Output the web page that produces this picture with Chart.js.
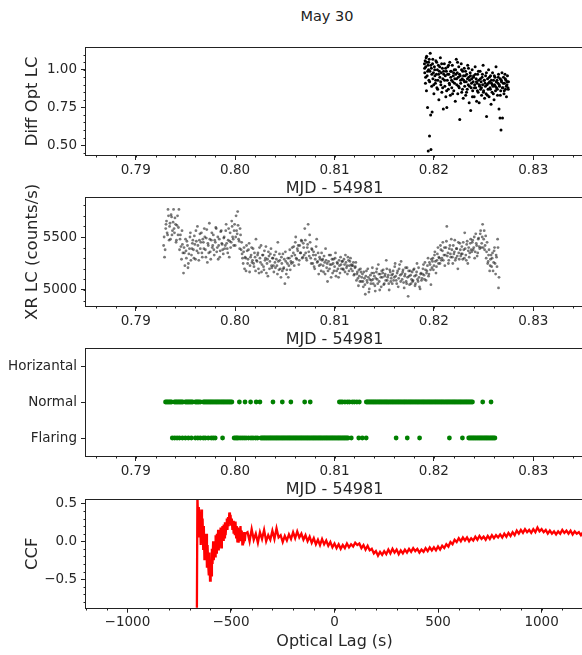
<!DOCTYPE html>
<html><head><meta charset="utf-8">
<script src="https://cdn.jsdelivr.net/npm/chart.js@4/dist/chart.umd.min.js"></script>
<style>
html,body{margin:0;padding:0;background:#fff;}
#wrap{position:relative;width:582px;height:655px;overflow:hidden;}
canvas{position:absolute;left:0;}
#sup{position:absolute;top:7.5px;left:327px;transform:translateX(-50%);font-family:'DejaVu Sans';font-size:14.5px;line-height:17px;color:#222;white-space:nowrap;}
</style></head>
<body><div id="wrap">
<div id="sup">May 30</div>
<canvas id="c1" width="590" height="198" style="top:0px"></canvas>
<canvas id="c2" width="590" height="169" style="top:180px"></canvas>
<canvas id="c3" width="590" height="169" style="top:330px"></canvas>
<canvas id="c4" width="590" height="171" style="top:480px"></canvas>
</div>
<script>
// ---------- DATA ----------
const mjdTicks = [0.79, 0.80, 0.81, 0.82, 0.83];
const optTicks = [0.50, 0.75, 1.00];
const xrTicks = [5000, 5500];
const stateTicks = [0, 1, 2];
const stateLabels = ['Flaring', 'Normal', 'Horizantal'];
const lagTicks = [-1000, -500, 0, 500, 1000];
const ccfTicks = [-0.5, 0.0, 0.5];

// Panel 1: differential optical light curve
const optT = [0.81905,0.81908,0.81912,0.81915,0.81918,0.81922,0.81925,0.81929,0.81932,0.81936,0.81940,0.81943,0.81946,0.81950,0.81953,0.81956,0.81960,0.81963,0.81967,0.81970,0.81974,0.81978,0.81982,0.81986,0.81990,0.81995,0.82000,0.82005,0.82010,0.82015,0.82020,0.82025,0.82030,0.82035,0.82040,0.82045,0.82050,0.82055,0.82060,0.82065,0.82070,0.82075,0.82080,0.82085,0.82090,0.82095,0.82100,0.82105,0.82110,0.82115,0.82120,0.82125,0.82130,0.82135,0.82140,0.82145,0.82150,0.82155,0.82160,0.82165,0.82170,0.82175,0.82180,0.82185,0.82190,0.82195,0.82200,0.82205,0.82210,0.82215,0.82220,0.82225,0.82230,0.82235,0.82240,0.82245,0.82250,0.82255,0.82260,0.82265,0.82270,0.82275,0.82280,0.82285,0.82290,0.82295,0.82300,0.82305,0.82310,0.82315,0.82320,0.82325,0.82330,0.82335,0.82340,0.82345,0.82350,0.82355,0.82360,0.82365,0.82370,0.82375,0.82380,0.82385,0.82390,0.82395,0.82400,0.82405,0.82410,0.82415,0.82420,0.82425,0.82430,0.82435,0.82440,0.82445,0.82450,0.82455,0.82460,0.82465,0.82470,0.82475,0.82480,0.82485,0.82490,0.82495,0.82500,0.82505,0.82510,0.82515,0.82520,0.82525,0.82530,0.82535,0.82540,0.82545,0.82550,0.82555,0.82560,0.82565,0.82570,0.82575,0.82580,0.82585,0.82590,0.82595,0.82600,0.82605,0.82610,0.82615,0.82620,0.82625,0.82630,0.82635,0.82640,0.82645,0.82650,0.82655,0.82660,0.82665,0.82668,0.82672,0.82675,0.82680,0.82685,0.82690,0.82695,0.82700,0.82705,0.82710,0.82715,0.82720,0.82725,0.82730,0.82735,0.82740,0.82745,0.82750,
0.81907,0.81917,0.81927,0.81937,0.81947,0.81957,0.81968,0.81979,0.81989,0.81998,0.82008,0.82018,0.82028,0.82038,0.82048,0.82058,0.82068,0.82078,0.82088,0.82098,0.82108,0.82118,0.82128,0.82138,0.82148,0.82158,0.82168,0.82178,0.82188,0.82198,0.82208,0.82218,0.82228,0.82238,0.82248,0.82258,0.82268,0.82278,0.82288,0.82298,0.82308,0.82318,0.82328,0.82338,0.82348,0.82358,0.82368,0.82378,0.82388,0.82398,0.82408,0.82418,0.82428,0.82438,0.82448,0.82458,0.82468,0.82478,0.82488,0.82498,0.82508,0.82518,0.82528,0.82538,0.82548,0.82558,0.82568,0.82578,0.82588,0.82598,0.82608,0.82618,0.82628,0.82638,0.82648,0.82658,0.82668,0.82678,0.82688,0.82698,0.82708,0.82718,0.82728,0.82738,0.82748];
const optF = [1.04,0.98,1.06,0.91,1.02,1.08,0.86,1.05,0.96,0.75,1.03,0.46,1.00,0.93,1.07,0.56,0.99,1.11,0.70,0.47,1.01,0.89,0.72,1.04,0.94,0.98,0.84,1.02,0.96,0.91,1.06,0.97,0.88,1.00,0.93,1.03,0.80,0.99,0.95,1.08,0.90,0.98,0.85,1.01,0.94,0.74,0.97,1.04,0.89,0.96,0.82,0.99,0.75,0.93,1.02,0.87,0.97,0.91,1.05,0.83,0.95,0.99,0.88,1.03,0.92,0.96,0.86,1.00,0.94,0.79,0.97,1.07,0.90,0.98,0.84,0.95,1.02,0.88,0.67,0.96,0.91,1.04,0.85,0.94,0.99,0.81,0.93,1.01,0.89,0.96,0.83,0.92,0.97,0.87,1.03,0.90,0.95,0.78,0.93,0.98,0.73,0.88,0.94,1.00,0.86,0.92,0.96,0.82,0.90,1.02,0.88,0.94,0.79,0.91,0.97,0.85,0.93,0.78,0.89,0.99,0.87,0.92,0.83,0.95,0.90,1.03,0.86,0.93,0.81,0.91,0.96,0.84,0.69,0.90,0.94,0.87,1.00,0.82,0.92,0.88,0.96,0.77,0.91,0.85,0.98,0.89,0.93,0.80,0.90,0.95,0.86,1.02,0.88,0.93,0.83,0.91,0.97,0.74,0.89,0.68,0.94,0.86,0.60,0.92,0.98,0.68,0.88,0.95,0.84,0.91,0.97,0.87,0.93,0.82,0.90,0.96,0.88,0.92,
1.01,0.95,1.09,0.99,1.05,0.92,1.03,0.97,1.07,0.90,1.00,0.93,1.05,0.87,0.97,1.02,0.92,1.04,0.88,0.99,0.93,1.01,0.86,0.97,1.03,0.90,0.99,0.93,0.84,0.98,0.91,1.00,0.94,1.05,0.89,0.97,0.93,1.00,0.87,0.96,0.92,0.99,0.85,0.94,1.01,0.89,0.96,0.91,0.82,0.95,0.88,0.97,0.92,0.86,0.99,0.90,0.94,0.88,0.97,0.85,0.93,0.89,0.98,0.83,0.91,0.95,0.87,0.93,0.90,0.84,0.96,0.89,0.92,0.87,0.95,0.90,0.83,0.93,0.88,0.91,0.86,0.94,0.89,0.92,0.87];

// Panel 2: X-ray light curve (counts/s)
const xrT = [0.79281,0.79290,0.79302,0.79310,0.79321,0.79330,0.79341,0.79350,0.79361,0.79370,
0.79381,0.79390,0.79401,0.79410,0.79421,0.79430,0.79441,0.79450,0.79461,0.79470,
0.79481,0.79490,0.79501,0.79510,0.79521,0.79530,0.79541,0.79550,0.79561,0.79570,
0.79581,0.79590,0.79601,0.79610,0.79621,0.79630,0.79641,0.79650,0.79661,0.79670,
0.79681,0.79690,0.79701,0.79710,0.79721,0.79730,0.79741,0.79750,0.79761,0.79770,
0.79781,0.79790,0.79801,0.79810,0.79821,0.79830,0.79841,0.79850,0.79861,0.79870,
0.79881,0.79890,0.79901,0.79910,0.79921,0.79930,0.79941,0.79950,0.79961,0.79970,
0.79981,0.79990,0.80001,0.80010,0.80021,0.80030,0.80041,0.80050,0.80061,0.80070,
0.80081,0.80090,0.80101,0.80110,0.80121,0.80130,0.80141,0.80150,0.80161,0.80170,
0.80181,0.80190,0.80201,0.80210,0.80221,0.80230,0.80241,0.80250,0.80261,0.80270,
0.80281,0.80290,0.80301,0.80310,0.80321,0.80330,0.80341,0.80350,0.80361,0.80370,
0.80381,0.80390,0.80401,0.80410,0.80421,0.80430,0.80441,0.80450,0.80461,0.80470,
0.80481,0.80490,0.80501,0.80510,0.80521,0.80530,0.80541,0.80550,0.80561,0.80570,
0.80581,0.80590,0.80601,0.80610,0.80621,0.80630,0.80641,0.80650,0.80661,0.80670,
0.80681,0.80690,0.80701,0.80710,0.80721,0.80730,0.80741,0.80750,0.80761,0.80770,
0.80781,0.80790,0.80801,0.80810,0.80821,0.80830,0.80841,0.80850,0.80861,0.80870,
0.80881,0.80890,0.80901,0.80910,0.80921,0.80930,0.80941,0.80950,0.80961,0.80970,
0.80981,0.80990,0.81001,0.81010,0.81021,0.81030,0.81041,0.81050,0.81061,0.81070,
0.81081,0.81090,0.81101,0.81110,0.81121,0.81130,0.81141,0.81150,0.81161,0.81170,
0.81181,0.81190,0.81201,0.81210,0.81221,0.81230,0.81241,0.81250,0.81261,0.81270,
0.81281,0.81290,0.81301,0.81310,0.81321,0.81330,0.81341,0.81350,0.81361,0.81370,
0.81381,0.81390,0.81401,0.81410,0.81421,0.81430,0.81441,0.81450,0.81461,0.81470,
0.81481,0.81490,0.81501,0.81510,0.81521,0.81530,0.81541,0.81550,0.81561,0.81570,
0.81581,0.81590,0.81601,0.81610,0.81621,0.81630,0.81641,0.81650,0.81661,0.81670,
0.81681,0.81690,0.81701,0.81710,0.81721,0.81730,0.81741,0.81750,0.81761,0.81770,
0.81781,0.81790,0.81801,0.81810,0.81821,0.81830,0.81841,0.81850,0.81861,0.81870,
0.81881,0.81890,0.81901,0.81910,0.81921,0.81930,0.81941,0.81950,0.81961,0.81970,
0.81981,0.81990,0.82001,0.82010,0.82021,0.82030,0.82041,0.82050,0.82061,0.82070,
0.82081,0.82090,0.82101,0.82110,0.82121,0.82130,0.82141,0.82150,0.82161,0.82170,
0.82181,0.82190,0.82201,0.82210,0.82221,0.82230,0.82241,0.82250,0.82261,0.82270,
0.82281,0.82290,0.82301,0.82310,0.82321,0.82330,0.82341,0.82350,0.82361,0.82370,
0.82381,0.82390,0.82401,0.82410,0.82421,0.82430,0.82441,0.82450,0.82461,0.82470,
0.82481,0.82490,0.82501,0.82510,0.82521,0.82530,0.82541,0.82550,0.82561,0.82570,
0.82581,0.82590,0.82601,0.82610,0.82621,0.82630,0.82641,0.82650];
const xrR = [5420,5310,5580,5650,5520,5700,5600,5480,5690,5560,
5760,5540,5620,5470,5700,5590,5380,5520,5290,5430,
5160,5350,5480,5300,5420,5250,5390,5540,5330,5440,
5380,5510,5290,5460,5600,5350,5470,5390,5540,5310,
5450,5580,5380,5490,5260,5420,5630,5360,5470,5400,
5520,5330,5450,5580,5400,5290,5480,5370,5560,5430,
5340,5500,5420,5620,5390,5470,5310,5540,5450,5600,
5480,5560,5420,5700,5530,5610,5460,5580,5380,5340,
5250,5400,5310,5180,5370,5290,5440,5230,5330,5260,
5390,5220,5310,5480,5270,5350,5160,5300,5420,5240,
5330,5190,5280,5410,5250,5130,5320,5270,5390,5210,
5300,5170,5260,5360,5230,5450,5190,5280,5120,5250,
5340,5210,5060,5270,5190,5300,5230,5380,5270,5320,
5260,5410,5330,5500,5290,5370,5240,5420,5350,5460,
5310,5400,5580,5350,5280,5430,5360,5520,5300,5390,
5250,5360,5200,5330,5480,5270,5150,5310,5240,5350,
5290,5170,5260,5390,5210,5080,5270,5200,5330,5240,
5160,5290,5220,5350,5180,5250,5120,5230,5310,5200,
5270,5190,5240,5330,5210,5150,5280,5230,5300,5240,
5180,5260,5150,5220,5090,5170,5040,5130,5200,5080,
5150,5030,5110,4960,5180,5070,5120,5010,5140,5090,
5210,5060,5130,4990,5170,5100,5240,5080,5150,5030,
5120,5190,5060,5150,5280,5090,5140,5000,5170,5110,
5060,5180,5120,5250,5090,5160,5030,5200,5140,5270,
5100,5190,5020,5150,5080,5210,4940,5130,5180,5060,
5170,5090,5200,5040,5140,5250,5080,5120,5010,5160,
5110,5200,5140,5260,5090,5180,5300,5150,5240,5050,
5210,5300,5230,5360,5160,5280,5400,5310,5250,5380,
5300,5450,5330,5230,5400,5600,5350,5280,5420,5310,
5380,5250,5340,5470,5300,5390,5200,5350,5440,5320,
5410,5290,5380,5540,5330,5430,5250,5400,5350,5480,
5360,5470,5400,5300,5530,5420,5350,5490,5390,5560,
5440,5620,5480,5380,5510,5360,5250,5330,5180,5290,
5220,5350,5260,5400,5150,5310,5480,5020];
// second reading pass of the same X-ray curve (interleaved samples)
const xrT2 = [0.79286,0.79296,0.79305,0.79316,0.79325,0.79336,0.79345,0.79356,0.79365,0.79376,
0.79386,0.79395,0.79406,0.79415,0.79426,0.79435,0.79446,0.79455,0.79466,0.79475,
0.79486,0.79495,0.79506,0.79515,0.79526,0.79535,0.79546,0.79555,0.79566,0.79575,
0.79586,0.79595,0.79606,0.79615,0.79626,0.79635,0.79646,0.79655,0.79666,0.79675,
0.79686,0.79695,0.79706,0.79715,0.79726,0.79735,0.79746,0.79755,0.79766,0.79775,
0.79786,0.79795,0.79806,0.79815,0.79826,0.79835,0.79846,0.79855,0.79866,0.79875,
0.79886,0.79895,0.79906,0.79915,0.79926,0.79935,0.79946,0.79955,0.79966,0.79975,
0.79986,0.79995,0.80006,0.80015,0.80026,0.80035,0.80046,0.80055,0.80066,0.80075,
0.80086,0.80095,0.80106,0.80115,0.80126,0.80135,0.80146,0.80155,0.80166,0.80175,
0.80186,0.80195,0.80206,0.80215,0.80226,0.80235,0.80246,0.80255,0.80266,0.80275,
0.80286,0.80295,0.80306,0.80315,0.80326,0.80335,0.80346,0.80355,0.80366,0.80375,
0.80386,0.80395,0.80406,0.80415,0.80426,0.80435,0.80446,0.80455,0.80466,0.80475,
0.80486,0.80495,0.80506,0.80515,0.80526,0.80535,0.80546,0.80555,0.80566,0.80575,
0.80586,0.80595,0.80606,0.80615,0.80626,0.80635,0.80646,0.80655,0.80666,0.80675,
0.80686,0.80695,0.80706,0.80715,0.80726,0.80735,0.80746,0.80755,0.80766,0.80775,
0.80786,0.80795,0.80806,0.80815,0.80826,0.80835,0.80846,0.80855,0.80866,0.80875,
0.80886,0.80895,0.80906,0.80915,0.80926,0.80935,0.80946,0.80955,0.80966,0.80975,
0.80986,0.80995,0.81006,0.81015,0.81026,0.81035,0.81046,0.81055,0.81066,0.81075,
0.81086,0.81095,0.81106,0.81115,0.81126,0.81135,0.81146,0.81155,0.81166,0.81175,
0.81186,0.81195,0.81206,0.81215,0.81226,0.81235,0.81246,0.81255,0.81266,0.81275,
0.81286,0.81295,0.81306,0.81315,0.81326,0.81335,0.81346,0.81355,0.81366,0.81375,
0.81386,0.81395,0.81406,0.81415,0.81426,0.81435,0.81446,0.81455,0.81466,0.81475,
0.81486,0.81495,0.81506,0.81515,0.81526,0.81535,0.81546,0.81555,0.81566,0.81575,
0.81586,0.81595,0.81606,0.81615,0.81626,0.81635,0.81646,0.81655,0.81666,0.81675,
0.81686,0.81695,0.81706,0.81715,0.81726,0.81735,0.81746,0.81755,0.81766,0.81775,
0.81786,0.81795,0.81806,0.81815,0.81826,0.81835,0.81846,0.81855,0.81866,0.81875,
0.81886,0.81895,0.81906,0.81915,0.81926,0.81935,0.81946,0.81955,0.81966,0.81975,
0.81986,0.81995,0.82006,0.82015,0.82026,0.82035,0.82046,0.82055,0.82066,0.82075,
0.82086,0.82095,0.82106,0.82115,0.82126,0.82135,0.82146,0.82155,0.82166,0.82175,
0.82186,0.82195,0.82206,0.82215,0.82226,0.82235,0.82246,0.82255,0.82266,0.82275,
0.82286,0.82295,0.82306,0.82315,0.82326,0.82335,0.82346,0.82355,0.82366,0.82375,
0.82386,0.82395,0.82406,0.82415,0.82426,0.82435,0.82446,0.82455,0.82466,0.82475,
0.82486,0.82495,0.82506,0.82515,0.82526,0.82535,0.82546,0.82555,0.82566,0.82575,
0.82586,0.82595,0.82606,0.82615,0.82626,0.82635,0.82645,0.82655];
const xrR2 = [5500,5380,5620,5540,5760,5470,5630,5710,5520,5640,
5580,5680,5450,5610,5520,5760,5480,5410,5560,5350,
5400,5230,5370,5460,5210,5340,5500,5280,5390,5470,
5300,5430,5560,5370,5420,5280,5530,5450,5350,5480,
5390,5500,5310,5570,5440,5350,5480,5290,5540,5420,
5380,5470,5590,5360,5500,5420,5310,5550,5440,5380,
5490,5390,5560,5440,5350,5580,5460,5400,5650,5500,
5420,5620,5500,5560,5740,5480,5390,5520,5450,5300,
5360,5200,5300,5420,5250,5380,5170,5310,5400,5280,
5250,5350,5180,5280,5330,5200,5400,5260,5170,5330,
5220,5370,5300,5160,5290,5360,5200,5340,5230,5300,
5230,5330,5210,5290,5150,5270,5340,5200,5310,5180,
5200,5290,5360,5150,5250,5120,5300,5190,5250,5400,
5350,5230,5450,5300,5390,5420,5280,5350,5470,5300,
5440,5330,5470,5300,5400,5620,5320,5450,5250,5380,
5330,5220,5290,5410,5260,5350,5230,5290,5180,5280,
5230,5320,5150,5280,5250,5180,5330,5240,5120,5290,
5250,5180,5300,5130,5260,5200,5280,5160,5240,5270,
5200,5290,5170,5260,5230,5310,5180,5270,5200,5230,
5230,5140,5210,5260,5150,5110,5190,5080,5170,5120,
5080,5170,5050,5130,5090,5200,4980,5100,5060,5160,
5100,5160,5040,5110,5200,5060,5150,5000,5120,5180,
5160,5050,5130,5090,5200,5120,5060,5190,5080,5140,
5150,5090,5220,5130,5060,5180,5110,5240,5080,5150,
5170,5070,5130,5210,5060,5120,5180,5050,5140,5100,
5080,5190,5130,5060,5170,5100,5210,5030,5150,5090,
5150,5240,5100,5190,5160,5230,5130,5260,5190,5290,
5270,5190,5330,5270,5220,5340,5250,5300,5420,5280,
5370,5280,5400,5330,5460,5320,5250,5390,5340,5480,
5310,5420,5360,5280,5390,5320,5450,5290,5380,5340,
5340,5450,5300,5390,5280,5460,5370,5310,5440,5380,
5450,5380,5500,5360,5440,5320,5480,5410,5530,5400,
5500,5400,5560,5420,5300,5450,5270,5380,5230,5330,
5300,5180,5370,5250,5330,5220,5400,5120];

// Panel 3: source state versus time (0 = Flaring, 1 = Normal)
const normalT = [0.79300,0.79312,0.79324,0.79336,0.79348,0.79360,0.79390,0.79402,0.79414,0.79426,0.79438,0.79450,0.79462,0.79474,0.79500,0.79512,0.79524,0.79536,0.79548,0.79560,0.79572,0.79600,0.79612,0.79624,0.79636,0.79650,0.79680,0.79692,0.79704,0.79716,0.79728,0.79740,0.79752,0.79764,0.79776,0.79788,0.79800,0.79812,0.79824,0.79836,0.79848,0.79860,0.79872,0.79884,0.79896,0.79908,0.79920,0.79932,0.79944,0.79956,0.79968,0.80043,0.80100,0.80156,0.80212,0.80250,0.80381,0.80475,0.80561,0.80700,0.80756,
0.81049,0.81065,0.81080,0.81105,0.81130,0.81150,0.81180,0.81200,0.81225,0.81250,
0.81320,0.81332,0.81344,0.81356,0.81368,0.81380,0.81392,0.81404,0.81416,0.81428,0.81440,0.81452,0.81464,0.81476,0.81488,0.81500,0.81512,0.81524,0.81536,0.81548,0.81560,0.81572,0.81584,0.81596,0.81608,0.81620,0.81632,0.81644,0.81656,0.81668,0.81680,0.81692,0.81704,0.81716,0.81728,0.81740,0.81752,0.81764,0.81776,0.81788,0.81800,0.81812,0.81824,0.81836,0.81848,0.81860,0.81872,0.81884,0.81896,0.81908,0.81920,0.81932,0.81944,0.81956,0.81968,0.81980,0.81992,0.82004,0.82016,0.82028,0.82040,0.82052,0.82064,0.82076,0.82088,0.82100,0.82112,0.82124,0.82136,0.82148,0.82160,0.82172,0.82184,0.82196,0.82208,0.82220,0.82232,0.82244,0.82256,0.82268,0.82280,0.82292,0.82304,0.82316,0.82328,0.82340,0.82352,0.82364,0.82376,0.82388,0.82491,0.82575];
const flaringT = [0.79368,0.79392,0.79416,0.79440,0.79470,0.79500,0.79530,0.79560,0.79600,0.79625,0.79650,0.79680,0.79700,0.79730,0.79760,0.79780,0.79800,0.79874,0.79990,0.80005,0.80018,0.80030,0.80050,0.80070,0.80090,0.80110,0.80135,0.80160,0.80180,0.80205,0.80225,
0.80260,0.80272,0.80284,0.80296,0.80308,0.80320,0.80332,0.80344,0.80356,0.80368,0.80380,0.80392,0.80404,0.80416,0.80428,0.80440,0.80452,0.80464,0.80476,0.80488,0.80500,0.80512,0.80524,0.80536,0.80548,0.80560,0.80572,0.80584,0.80596,0.80608,0.80620,0.80632,0.80644,0.80656,0.80668,0.80680,0.80692,0.80704,0.80716,0.80728,0.80740,0.80752,0.80764,0.80776,0.80788,0.80800,0.80812,0.80824,0.80836,0.80848,0.80860,0.80872,0.80884,0.80896,0.80908,0.80920,0.80932,0.80944,0.80956,0.80968,0.80980,0.80992,0.81004,0.81016,0.81028,0.81040,0.81052,0.81064,0.81076,0.81088,0.81100,0.81112,0.81124,0.81136,
0.81169,0.81244,0.81280,0.81319,0.81620,0.81732,0.81856,0.82156,0.82287,
0.82350,0.82362,0.82374,0.82386,0.82398,0.82410,0.82422,0.82434,0.82446,0.82458,0.82470,0.82482,0.82494,0.82506,0.82518,0.82530,0.82542,0.82554,0.82566,0.82578,0.82590,0.82602,0.82614];

// Panel 4: cross-correlation vs optical lag (s)
const ccfLag = [-665,-662,-658,-655,-652,-649,-646,-643,-640,-637,-634,-631,-628,-625,-622,-619,-616,-613,-610,-607,-604,-601,-598,-595,-592,-589,-586,-583,-580,-577,-574,-571,-568,-565,-562,-559,-556,-553,-550,-547,-544,-541,-538,-535,-532,-529,-526,-523,-520,-517,-514,-511,-508,-505,-502,-499,-496,-493,-490,-487,-484,-481,-478,-475,-472,-469,-466,-463,-460,-457,-454,-451,-448,-445,-442,-439,-436,-433,-430,
-420,-410,-400,-390,-380,-370,-360,-350,-340,-330,-320,-310,-300,-290,-280,-270,-260,-250,-240,-230,-220,-210,-200,-190,-180,-170,-160,-150,-140,-130,-120,-110,-100,-90,-80,-70,-60,-50,-40,-30,-20,-10,
0,10,20,30,40,50,60,70,80,90,100,110,120,130,140,150,160,170,180,190,200,210,220,230,240,250,260,270,280,290,300,310,320,330,340,350,360,370,380,390,400,410,420,430,440,450,460,470,480,490,500,510,520,530,540,550,560,570,580,590,600,610,620,630,640,650,660,670,680,690,700,710,720,730,740,750,760,770,780,790,800,810,820,830,840,850,860,870,880,890,900,910,920,930,940,950,960,970,980,990,1000,1010,1020,1030,1040,1050,1060,1070,1080,1090,1100,1110,1120,1130,1140,1150,1160,1170,1180,1190,1200];
const ccfVal = [-1.2,0.62,0.15,0.45,0.05,0.38,-0.05,0.42,0.10,0.30,-0.10,0.20,-0.25,0.05,-0.20,0.10,-0.35,-0.05,-0.30,-0.45,-0.15,-0.52,-0.25,-0.45,-0.10,-0.30,0.00,-0.25,-0.05,-0.20,0.08,-0.15,0.10,-0.10,0.15,-0.12,0.12,-0.05,0.18,-0.08,0.10,0.20,0.02,0.22,0.05,0.25,0.08,0.20,0.30,0.15,0.32,0.20,0.38,0.28,0.35,0.22,0.30,0.15,0.27,0.10,0.24,0.08,0.26,0.05,0.20,0.00,0.18,-0.02,0.15,0.00,0.20,0.02,0.14,-0.04,0.10,-0.03,0.12,0.00,0.10,
0.12,0.00,0.16,0.02,0.10,-0.02,0.12,0.03,0.15,0.00,0.08,0.02,0.14,0.03,0.17,0.05,0.08,-0.01,0.07,0.01,0.09,0.03,0.12,0.04,0.13,0.05,0.10,0.02,0.08,0.00,0.06,-0.02,0.04,-0.04,0.02,-0.05,0.03,-0.04,0.01,-0.06,-0.01,-0.08,
-0.03,-0.09,-0.04,-0.10,-0.05,-0.09,-0.03,-0.08,-0.04,-0.07,-0.02,-0.05,-0.03,-0.09,-0.05,-0.11,-0.06,-0.12,-0.10,-0.16,-0.13,-0.19,-0.14,-0.18,-0.13,-0.17,-0.11,-0.16,-0.10,-0.15,-0.11,-0.17,-0.12,-0.16,-0.11,-0.15,-0.10,-0.14,-0.09,-0.13,-0.10,-0.15,-0.11,-0.14,-0.09,-0.13,-0.08,-0.12,-0.08,-0.12,-0.07,-0.11,-0.06,-0.09,-0.04,-0.07,-0.01,-0.04,0.02,-0.01,0.04,0.00,0.05,0.01,0.05,0.00,0.04,0.01,0.06,0.02,0.07,0.03,0.06,0.02,0.07,0.03,0.08,0.04,0.08,0.05,0.09,0.05,0.10,0.06,0.11,0.07,0.12,0.08,0.14,0.10,0.15,0.11,0.16,0.12,0.15,0.11,0.16,0.12,0.18,0.13,0.16,0.12,0.15,0.10,0.14,0.10,0.13,0.09,0.13,0.10,0.15,0.11,0.14,0.10,0.14,0.09,0.13,0.10,0.12,0.08,0.12];

// ---------- STYLE / HELPERS ----------
const FONT = 'DejaVu Sans';
const INK = '#262626';
const pts = (xs, ys) => xs.map((x, i) => ({x: x, y: ys[i]}));
const flat = (xs, v) => xs.map(x => ({x: x, y: v}));
const minus = s => s.replace('-', '\u2212');

const framePlugin = {
  id: 'frame',
  afterDatasetsDraw(chart) {
    const a = chart.chartArea, c = chart.ctx;
    c.save(); c.strokeStyle = '#222'; c.lineWidth = 1;
    c.strokeRect(Math.round(a.left) - 0.5, Math.round(a.top) - 0.5, Math.round(a.right - a.left) + 1, Math.round(a.bottom - a.top) + 1);
    c.restore();
  }
};
const minorPlugin = {
  id: 'minor',
  afterDraw(chart, args, opts) {
    const c = chart.ctx, a = chart.chartArea;
    c.save(); c.strokeStyle = '#222'; c.lineWidth = 1;
    for (const [id, step] of Object.entries(opts.steps || {})) {
      const s = chart.scales[id];
      const k0 = Math.ceil(s.min / step - 1e-9), k1 = Math.floor(s.max / step + 1e-9);
      for (let k = k0; k <= k1; k++) {
        const p = s.getPixelForValue(k * step);
        c.beginPath();
        if (s.isHorizontal()) { const x = Math.round(p) + 0.5; c.moveTo(x, Math.round(a.bottom)); c.lineTo(x, Math.round(a.bottom) + 2.5); }
        else { const y = Math.round(p) + 0.5; c.moveTo(Math.round(a.left), y); c.lineTo(Math.round(a.left) - 2.5, y); }
        c.stroke();
      }
    }
    c.restore();
  }
};

function xAxis(min, max, tickVals, fmt, title, h) {
  return {
    type: 'linear', position: 'bottom', min: min, max: max,
    afterBuildTicks: s => { s.ticks = tickVals.map(v => ({value: v})); },
    afterFit: s => { s.height = h; },
    ticks: {autoSkip: false, maxRotation: 0, padding: 2, color: INK, font: {family: FONT, size: 13.5}, callback: fmt},
    grid: {drawOnChartArea: false, drawTicks: true, tickLength: 5, color: '#222'},
    border: {display: false},
    title: {display: true, text: title, color: INK, font: {family: FONT, size: 16}, padding: {top: 0, bottom: 0}}
  };
}
function yAxis(min, max, tickVals, fmt, title) {
  return {
    type: 'linear', position: 'left', min: min, max: max,
    afterBuildTicks: s => { s.ticks = tickVals.map(v => ({value: v})); },
    afterFit: s => { s.width = 86; },
    ticks: {autoSkip: false, padding: 4, color: INK, font: {family: FONT, size: 13.5}, callback: fmt},
    grid: {drawOnChartArea: false, drawTicks: true, tickLength: 5, color: '#222'},
    border: {display: false},
    title: {display: !!title, text: title || '', color: INK, font: {family: FONT, size: 16.5}, padding: {top: 23, bottom: 0}}
  };
}
function make(id, datasets, xs, ys, minorSteps, padTop) {
  return new Chart(document.getElementById(id), {
    type: 'scatter',
    data: {datasets: datasets},
    options: {
      responsive: false, animation: false, events: [],
      layout: {padding: {top: padTop, right: 7, left: 0, bottom: 0}},
      plugins: {legend: {display: false}, tooltip: {enabled: false}, minor: {steps: minorSteps}},
      scales: {x: xs, y: ys}
    },
    plugins: [framePlugin, minorPlugin]
  });
}
const fmt2 = v => v.toFixed(2);

// Panel 1
make('c1', [{data: pts(optT, optF), pointRadius: 1.5, pointBorderWidth: 0, backgroundColor: '#000'}],
  xAxis(0.785, 0.835, mjdTicks, fmt2, 'MJD - 54981', 43),
  yAxis(0.434, 1.146, optTicks, fmt2, 'Diff Opt LC'),
  {x: 0.002, y: 0.05}, 47.7);

// Panel 2
make('c2', [
    {data: pts(xrT, xrR), pointRadius: 1.4, pointBorderWidth: 0, backgroundColor: 'rgba(30,30,30,0.6)'},
    {data: pts(xrT2, xrR2), pointRadius: 1.4, pointBorderWidth: 0, backgroundColor: 'rgba(30,30,30,0.6)'}],
  xAxis(0.785, 0.835, mjdTicks, fmt2, 'MJD - 54981', 43),
  yAxis(4849, 5871, xrTicks, v => String(v), 'XR LC (counts/s)'),
  {x: 0.002, y: 100}, 17.7);

// Panel 3
make('c3', [
    {data: flat(normalT, 1), pointRadius: 2.4, pointBorderWidth: 0, backgroundColor: '#008000'},
    {data: flat(flaringT, 0), pointRadius: 2.4, pointBorderWidth: 0, backgroundColor: '#008000'}],
  xAxis(0.785, 0.835, mjdTicks, fmt2, 'MJD - 54981', 43),
  yAxis(-0.5, 2.464, stateTicks, v => stateLabels[v], null),
  {x: 0.002}, 19.3);

// Panel 4
make('c4', [{data: pts(ccfLag, ccfVal), showLine: true, pointRadius: 0, borderColor: '#ff0000', borderWidth: 2.3, tension: 0}],
  xAxis(-1200, 1200, lagTicks, v => minus(String(v)), 'Optical Lag (s)', 43.3),
  yAxis(-0.876, 0.544, ccfTicks, v => minus(v.toFixed(1)), 'CCF'),
  {x: 100, y: 0.1}, 20);
</script>
</body></html>
